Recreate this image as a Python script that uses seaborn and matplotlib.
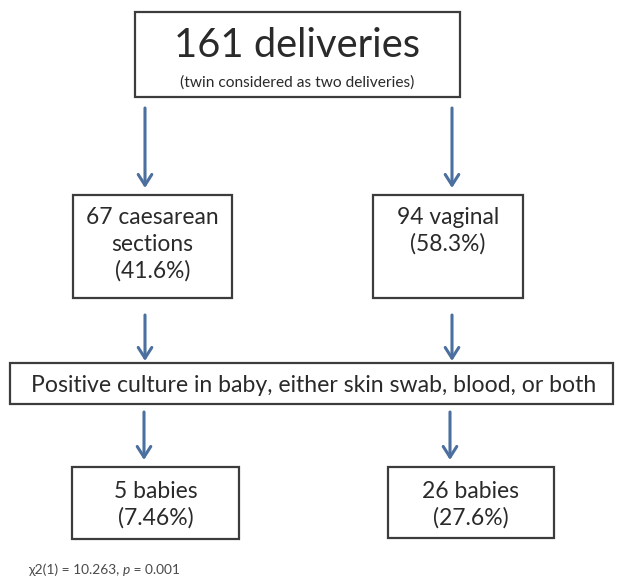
import matplotlib
matplotlib.use("Agg")
import matplotlib.pyplot as plt
from matplotlib.patches import Rectangle
import seaborn as sns

# ---------------- data ----------------
total_deliveries = 161
delivery_note = "(twin considered as two deliveries)"
mode_names = [["caesarean", "sections"], ["vaginal"]]
mode_counts = [67, 94]
mode_pcts = ["41.6", "58.3"]
outcome_label = "Positive culture in baby, either skin swab, blood, or both"
positive_counts = [5, 26]
positive_pcts = ["7.46", "27.6"]
stat_parts = ["\u03c72(1) = 10.263, ", "p", " = 0.001"]

# ---------------- style ----------------
sns.set_theme(style="white")
plt.rcParams['font.family'] = ['Lato', 'DejaVu Sans']
TXT = '#2a2a2a'
EDGE = '#3c3c3c'
ARROW = '#4b6f9f'

W, H = 619, 579
fig = plt.figure(figsize=(W / 100, H / 100), dpi=100)
ax = fig.add_axes([0, 0, 1, 1])
ax.set_xlim(0, W)
ax.set_ylim(H, 0)
ax.axis('off')
sns.despine(ax=ax, left=True, bottom=True)
fig.canvas.draw()
renderer = fig.canvas.get_renderer()


def fit_size(s, target_w, base=20.0, **kw):
    t = ax.text(0, 0, s, fontsize=base, **kw)
    w = t.get_window_extent(renderer).width
    t.remove()
    return base * target_w / w


def box(x0, y0, x1, y1):
    ax.add_patch(Rectangle((x0, y0), x1 - x0, y1 - y0, fill=False,
                           edgecolor=EDGE, lw=1.6, zorder=2))


def arrow(x, y0, y1):
    ax.annotate("", xy=(x, y1), xytext=(x, y0),
                arrowprops=dict(arrowstyle="->,head_length=0.55,head_width=0.35",
                                color=ARROW, lw=2.2, shrinkA=0, shrinkB=0,
                                mutation_scale=14))


def line(x, y, s, size):
    ax.text(x, y, s, fontsize=size, color=TXT, ha='center', va='baseline')


# ---------------- top box ----------------
title = f"{total_deliveries} deliveries"
box(135, 12, 460, 97)
line(297, 57, title, fit_size(title, 247))
line(297, 87, delivery_note, fit_size(delivery_note, 235))

# ---------------- arrows level 1 ----------------
left_x, right_x = 145, 452
arrow(left_x, 108, 188)
arrow(right_x, 108, 188)

# ---------------- mode boxes ----------------
mid_size = fit_size(f"{mode_counts[0]} {mode_names[0][0]}", 132)
mid_boxes = [(73, 195, 232, 298), (373, 195, 523, 298)]
for (x0, y0, x1, y1), names, n, p in zip(mid_boxes, mode_names, mode_counts, mode_pcts):
    box(x0, y0, x1, y1)
    cx = (x0 + x1) / 2
    lines = [f"{n} {names[0]}"] + names[1:] + [f"({p}%)"]
    for i, s in enumerate(lines):
        line(cx, 224 + 27 * i, s, mid_size)

# ---------------- arrows level 2 ----------------
arrow(left_x, 315, 361)
arrow(right_x, 315, 361)

# ---------------- outcome box ----------------
box(10, 363, 613, 404)
line(314, 392, outcome_label, fit_size(outcome_label, 567))

# ---------------- arrows level 3 ----------------
arrow(left_x - 1, 412, 460)
arrow(right_x - 2, 412, 460)

# ---------------- result boxes ----------------
res_size = fit_size(f"{positive_counts[0]} babies", 84)
res_boxes = [(72, 467, 239, 539), (388, 467, 554, 538)]
for (x0, y0, x1, y1), n, p in zip(res_boxes, positive_counts, positive_pcts):
    box(x0, y0, x1, y1)
    cx = (x0 + x1) / 2
    line(cx, 498, f"{n} babies", res_size)
    line(cx, 525, f"({p}%)", res_size)

# ---------------- footnote ----------------
foot_size = fit_size("".join(stat_parts), 152)
xpos = 28
for i, part in enumerate(stat_parts):
    t = ax.text(xpos, 574, part, fontsize=foot_size, color='#4a4a4a',
                ha='left', va='baseline', style='italic' if i == 1 else 'normal')
    xpos += t.get_window_extent(renderer).width

fig.savefig("out.png", dpi=100)
